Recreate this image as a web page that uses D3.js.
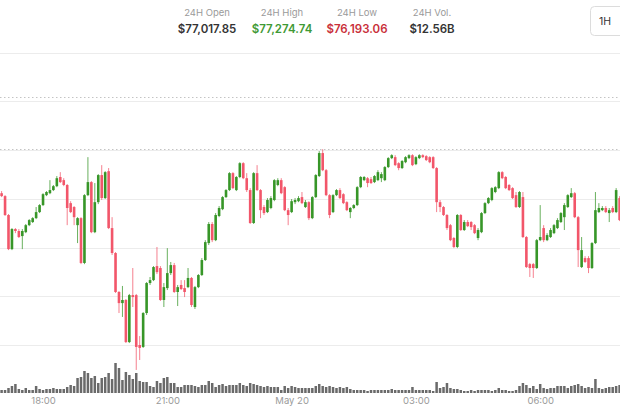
<!DOCTYPE html>
<html>
<head>
<meta charset="utf-8">
<script src="https://cdn.jsdelivr.net/npm/d3@7"></script>
<style>
  body { margin: 0; background: #fff; }
  svg { display: block; font-family: Inter, "Helvetica Neue", Arial, sans-serif; }
</style>
</head>
<body>
<svg id="chart" width="620" height="410"></svg>
<script>
// BTC 5 min candles, May 19 17:00 -> May 20 07:55
var startTime = new Date(2025, 4, 19, 17, 0);

var opens = [76779,76764,76667,76492,76595,76585,76559,76579,76615,76631,
  76651,76682,76718,76769,76779,76795,76815,76862,76846,76821,
  76728,76708,76615,76651,76421,76769,76836,76579,76733,76872,
  76754,76892,76600,76472,76272,76215,76231,76015,76256,76256,
  76000,75990,76164,76318,76333,76405,76395,76231,76292,76369,
  76410,76272,76308,76292,76297,76344,76195,76297,76359,76436,
  76523,76621,76538,76662,76697,76759,76795,76882,76795,76862,
  76933,76856,76795,76626,76882,76795,76708,76682,76703,76744,
  76821,76846,76810,76692,76682,76733,76738,76759,76708,76733,
  76651,76759,76867,76985,76897,76769,76682,76769,76795,76774,
  76733,76682,76703,76718,76810,76846,76856,76851,76836,76846,
  76856,76846,76913,76959,76964,76933,76908,76938,76959,76974,
  76928,76959,76974,76969,76964,76964,76908,76733,76708,76667,
  76615,76549,76503,76667,76590,76631,76631,76615,76549,76579,
  76677,76728,76744,76785,76805,76887,76862,76821,76805,76769,
  76708,76759,76554,76415,76415,76395,76538,76600,76538,76554,
  76574,76600,76631,76656,76708,76759,76779,76656,76400,76446,
  76446,76395,76523,76682,76692,76703,76677,76703,76682,76754];

var highs = [76790,76769,76672,76600,76600,76595,76595,76621,76646,76656,
  76708,76723,76779,76790,76846,76821,76867,76887,76856,76826,
  76738,76713,76656,76656,76774,76964,76841,76831,76877,76923,
  76892,76908,76656,76477,76277,76303,76236,76262,76395,76262,
  76046,76169,76323,76349,76405,76503,76405,76318,76497,76426,
  76421,76308,76333,76333,76395,76349,76303,76364,76446,76538,
  76631,76631,76677,76713,76764,76800,76887,76887,76867,76938,
  76938,76882,76805,76887,76923,76800,76718,76754,76764,76851,
  76856,76856,76815,76703,76749,76754,76764,76785,76744,76738,
  76764,76877,76995,77005,76903,76774,76774,76800,76805,76779,
  76738,76708,76723,76815,76867,76867,76862,76862,76872,76897,
  76887,76918,76964,76979,76974,76938,76949,76969,76979,76979,
  76969,76979,76979,76974,76969,76969,76913,76744,76713,76672,
  76621,76554,76672,76672,76641,76641,76636,76621,76600,76682,
  76733,76759,76810,76815,76892,76892,76867,76826,76810,76785,
  76790,76785,76559,76421,76421,76544,76718,76615,76574,76600,
  76621,76651,76682,76728,76774,76805,76785,76662,76554,76456,
  76456,76528,76785,76728,76713,76713,76703,76713,76805,76764];

var lows = [76759,76662,76487,76487,76574,76549,76492,76574,76610,76626,
  76646,76677,76713,76764,76774,76790,76810,76831,76815,76615,
  76677,76615,76523,76415,76415,76764,76574,76574,76723,76744,
  76749,76595,76462,76267,76164,76144,76010,76010,76195,75872,
  75923,75985,76154,76308,76328,76364,76226,76195,76282,76359,
  76267,76200,76282,76246,76292,76195,76185,76292,76354,76431,
  76513,76528,76533,76656,76692,76754,76790,76800,76790,76856,
  76851,76785,76621,76621,76790,76651,76667,76677,76697,76738,
  76815,76774,76687,76615,76677,76723,76733,76723,76703,76641,
  76646,76754,76862,76892,76764,76651,76677,76764,76749,76723,
  76687,76651,76697,76713,76805,76841,76810,76826,76831,76841,
  76836,76841,76908,76954,76918,76897,76903,76933,76954,76918,
  76923,76954,76959,76944,76933,76903,76682,76682,76662,76590,
  76533,76497,76497,76585,76585,76605,76590,76569,76538,76574,
  76672,76723,76738,76779,76800,76851,76800,76790,76749,76703,
  76703,76549,76395,76349,76344,76390,76533,76528,76533,76549,
  76569,76595,76626,76590,76703,76754,76651,76400,76395,76421,
  76369,76390,76518,76677,76687,76677,76631,76677,76677,76636];

var closes = [76764,76667,76492,76595,76585,76554,76585,76615,76641,76651,
  76682,76718,76774,76785,76795,76815,76856,76836,76821,76703,
  76682,76656,76651,76421,76769,76836,76579,76733,76872,76754,
  76887,76600,76472,76272,76215,76231,76015,76256,76246,75990,
  75985,76164,76318,76333,76400,76374,76231,76297,76369,76410,
  76272,76297,76287,76272,76344,76205,76297,76359,76436,76528,
  76621,76538,76667,76703,76759,76795,76882,76805,76862,76933,
  76856,76795,76626,76882,76795,76692,76677,76744,76754,76846,
  76846,76779,76692,76667,76738,76744,76754,76728,76733,76651,
  76759,76872,76985,76897,76769,76667,76769,76795,76754,76728,
  76692,76703,76718,76810,76862,76862,76831,76831,76867,76887,
  76877,76913,76959,76974,76923,76908,76944,76964,76974,76923,
  76964,76974,76964,76949,76938,76908,76733,76708,76667,76600,
  76538,76503,76667,76590,76631,76610,76605,76574,76590,76677,
  76728,76754,76805,76810,76887,76856,76805,76795,76754,76708,
  76785,76554,76400,76395,76395,76538,76554,76538,76564,76590,
  76615,76641,76677,76718,76769,76779,76656,76487,76487,76426,
  76395,76523,76692,76703,76703,76682,76692,76682,76795,76641];

// volume per candle, $M
var volumes = [18,18,30,42,54,24,18,30,18,18,
  42,24,18,24,24,30,24,24,24,36,
  48,42,90,96,132,120,90,102,60,90,
  96,120,84,180,150,78,126,108,84,120,
  72,66,66,42,36,72,60,90,96,60,
  60,36,36,48,48,48,42,36,48,48,
  72,60,36,48,54,42,48,48,48,60,
  48,42,60,54,48,42,36,42,36,36,
  36,18,42,30,42,36,30,30,30,30,
  30,42,54,42,36,42,36,30,36,30,
  36,24,18,18,18,18,12,18,18,18,
  18,18,18,24,18,18,18,18,18,36,
  18,18,18,18,18,12,66,30,36,60,
  30,24,24,18,12,12,18,12,18,18,
  18,18,12,18,30,18,18,12,12,18,
  42,60,48,30,42,24,54,30,24,30,
  30,42,42,42,30,42,48,54,42,30,
  36,30,84,30,24,30,36,36,42,48];

var statLabels = ["24H Open", "24H High", "24H Low", "24H Vol."];
var statValues = ["$77,017.85", "$77,274.74", "$76,193.06", "$12.56B"];
var statColors = ["#333333", "#3f9a35", "#c9303a", "#333333"];
var high24 = 77274.74;
var priceGrid = [76000, 76250, 76500, 76750, 77000, 77250, 77500];

var GREEN = "#379628", RED = "#f2566a";

var candles = opens.map(function(o, i) {
  return {
    t: d3.timeMinute.offset(startTime, 5 * i),
    o: o, h: highs[i], l: lows[i], c: closes[i], v: volumes[i]
  };
});

var svg = d3.select("#chart");

var x = d3.scaleTime()
    .domain([candles[0].t, candles[candles.length - 1].t])
    .range([1.6, 1.6 + (candles.length - 1) * 3.4525]);
var y = d3.scaleLinear()
    .domain([76000, 77500])
    .range([345, 52.7]);
var yVol = d3.scaleLinear()
    .domain([0, 180])
    .range([393, 363]);

// header stats
var stats = svg.append("g");
statLabels.forEach(function(lab, i) {
  var cx = 207 + i * 75;
  stats.append("text")
      .attr("x", cx).attr("y", 16)
      .attr("text-anchor", "middle")
      .attr("font-size", 9.5)
      .attr("fill", "#9a9a9a")
      .text(lab);
  stats.append("text")
      .attr("x", cx).attr("y", 33)
      .attr("text-anchor", "middle")
      .attr("font-size", 11.5)
      .attr("font-weight", 600)
      .attr("fill", statColors[i])
      .text(statValues[i]);
});

// interval button
svg.append("rect")
    .attr("x", 590.5).attr("y", 6.5)
    .attr("width", 40).attr("height", 29)
    .attr("rx", 4)
    .attr("fill", "#fff")
    .attr("stroke", "#dcdcdc");
svg.append("text")
    .attr("x", 605).attr("y", 25)
    .attr("text-anchor", "middle")
    .attr("font-size", 10.5)
    .attr("fill", "#333")
    .text("1H");

// grid
svg.append("g")
  .selectAll("line")
  .data(priceGrid)
  .join("line")
    .attr("x1", 0).attr("x2", 620)
    .attr("y1", function(d) { return Math.round(y(d)) + 0.5; })
    .attr("y2", function(d) { return Math.round(y(d)) + 0.5; })
    .attr("stroke", "#ececec");

// dotted reference lines: 24h high, visible high
var refs = [high24, d3.max(highs)];
svg.append("g")
  .selectAll("line")
  .data(refs)
  .join("line")
    .attr("x1", 0).attr("x2", 620)
    .attr("y1", function(d) { return Math.round(y(d)) + 0.5; })
    .attr("y2", function(d) { return Math.round(y(d)) + 0.5; })
    .attr("stroke", "#c4c4c4")
    .attr("stroke-dasharray", "1.5,2.5");

// volume
svg.append("g")
  .selectAll("rect")
  .data(candles)
  .join("rect")
    .attr("x", function(d) { return x(d.t) - 1.25; })
    .attr("width", 2.5)
    .attr("y", function(d) { return yVol(d.v); })
    .attr("height", function(d) { return yVol(0) - yVol(d.v); })
    .attr("fill", "#6a6a6a");

// candles
var cg = svg.append("g");
cg.selectAll("line")
  .data(candles)
  .join("line")
    .attr("x1", function(d) { return x(d.t); })
    .attr("x2", function(d) { return x(d.t); })
    .attr("y1", function(d) { return y(d.h); })
    .attr("y2", function(d) { return y(d.l); })
    .attr("stroke", function(d) { return d.c >= d.o ? GREEN : RED; })
    .attr("stroke-opacity", 0.75)
    .attr("stroke-width", 1);
cg.selectAll("rect")
  .data(candles)
  .join("rect")
    .attr("x", function(d) { return x(d.t) - 1.3; })
    .attr("width", 2.6)
    .attr("y", function(d) { return y(Math.max(d.o, d.c)); })
    .attr("height", function(d) { return Math.max(1, Math.abs(y(d.o) - y(d.c))); })
    .attr("fill", function(d) { return d.c >= d.o ? GREEN : RED; });

// time axis
var fmtHour = d3.timeFormat("%H:%M"), fmtDay = d3.timeFormat("%b %-d");
var xAxis = d3.axisBottom(x)
    .ticks(d3.timeHour.every(3))
    .tickSize(0)
    .tickPadding(4)
    .tickFormat(function(d) { return d.getHours() === 0 ? fmtDay(d) : fmtHour(d); });
var ax = svg.append("g")
    .attr("transform", "translate(0,393)")
    .call(xAxis);
ax.select(".domain").remove();
ax.selectAll("text")
    .attr("font-family", "Inter, Arial, sans-serif")
    .attr("font-size", 9.5)
    .attr("fill", "#9a9a9a");
</script>
</body>
</html>
